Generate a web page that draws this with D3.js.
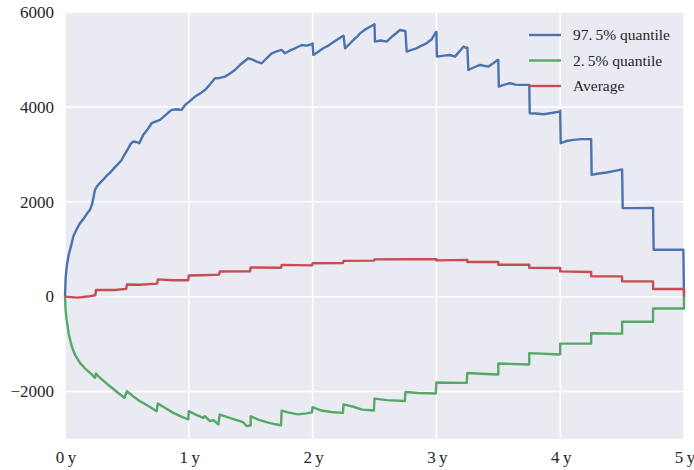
<!DOCTYPE html>
<html lang="en">
<head>
<meta charset="UTF-8"/>
<title>Quantiles over time</title>
<script src="https://d3js.org/d3.v7.min.js"></script>
<style>
  body { margin: 0; background: white; }
  text { font-family: "Liberation Serif", "DejaVu Serif", serif; fill: #262626; }
</style>
</head>
<body>
<script>
    // tick values and labels
    var yTicks = [-2000, 0, 2000, 4000, 6000];
    var xTicks = [0, 1, 2, 3, 4, 5];
    var xTickLabels = ["0\u2009y", "1\u2009y", "2\u2009y", "3\u2009y", "4\u2009y", "5\u2009y"];
    var seriesNames = ["97.\u20095% quantile", "2.\u20095% quantile", "Average"];
    var seriesColors = ["#4C72B0", "#55A868", "#C44E52"];

    // [year, value]
    var upper = [[0,0],[0.005,380],[0.014,640],[0.03,880],[0.05,1080],[0.067,1270],[0.09,1400],[0.121,1550],
        [0.15,1640],[0.18,1760],[0.202,1830],[0.22,1960],[0.242,2250],[0.26,2330],[0.283,2400],[0.31,2470],
        [0.34,2560],[0.363,2610],[0.40,2720],[0.43,2800],[0.458,2880],[0.48,2990],[0.512,3130],[0.53,3220],
        [0.552,3270],[0.575,3260],[0.60,3235],[0.632,3410],[0.66,3500],[0.70,3656],[0.73,3690],[0.767,3726],
        [0.80,3800],[0.83,3870],[0.862,3936],[0.90,3950],[0.942,3936],[0.97,4040],[1.004,4110],[1.05,4217],
        [1.09,4280],[1.131,4357],[1.17,4470],[1.212,4603],[1.25,4610],[1.292,4638],[1.33,4700],[1.373,4778],
        [1.42,4900],[1.48,5025],[1.52,4990],[1.548,4954],[1.589,4919],[1.63,5030],[1.67,5130],[1.71,5170],
        [1.75,5200],[1.777,5130],[1.82,5190],[1.858,5235],[1.912,5305],[1.95,5290],[1.993,5320],[2.0,5340],
        [2.006,5094],[2.04,5150],[2.086,5235],[2.12,5280],[2.154,5340],[2.20,5420],[2.235,5480],[2.25,5500],
        [2.262,5235],[2.30,5330],[2.329,5410],[2.36,5480],[2.383,5550],[2.43,5640],[2.49,5726],[2.50,5740],
        [2.504,5375],[2.55,5400],[2.598,5375],[2.65,5500],[2.706,5620],[2.746,5600],[2.75,5585],[2.76,5165],
        [2.80,5200],[2.84,5235],[2.88,5290],[2.92,5340],[2.96,5420],[2.997,5580],[3.0,5580],[3.004,5060],
        [3.06,5080],[3.11,5094],[3.15,5060],[3.19,5180],[3.218,5270],[3.245,5235],[3.25,5250],[3.258,4778],
        [3.30,4830],[3.352,4884],[3.42,4849],[3.46,4920],[3.495,4990],[3.5,4990],[3.504,4427],[3.55,4470],
        [3.595,4498],[3.64,4470],[3.675,4463],[3.75,4463],[3.754,3867],[3.80,3860],[3.864,3846],[3.93,3870],
        [3.996,3900],[4.0,3920],[4.004,3235],[4.05,3280],[4.106,3305],[4.17,3320],[4.25,3320],[4.254,2568],
        [4.30,2590],[4.376,2617],[4.44,2650],[4.5,2680],[4.505,1867],[4.6,1867],[4.75,1870],[4.755,989],
        [4.995,989],[5.0,0]];

    var lower = [[0,0],[0.005,-300],[0.013,-484],[0.03,-780],[0.054,-1046],[0.08,-1220],[0.121,-1396],
        [0.16,-1510],[0.202,-1606],[0.22,-1650],[0.242,-1712],[0.25,-1620],[0.27,-1680],[0.30,-1750],
        [0.363,-1888],[0.42,-2010],[0.48,-2130],[0.50,-1993],[0.55,-2100],[0.606,-2203],[0.67,-2300],
        [0.74,-2414],[0.75,-2252],[0.80,-2330],[0.875,-2449],[0.94,-2530],[0.996,-2589],[1.0,-2414],
        [1.06,-2490],[1.117,-2553],[1.13,-2520],[1.171,-2625],[1.20,-2600],[1.238,-2694],[1.25,-2484],
        [1.30,-2530],[1.36,-2580],[1.414,-2625],[1.44,-2650],[1.468,-2730],[1.5,-2710],[1.5,-2520],
        [1.56,-2590],[1.62,-2640],[1.70,-2690],[1.745,-2710],[1.75,-2400],[1.80,-2440],[1.88,-2480],
        [1.95,-2460],[1.995,-2440],[2.0,-2330],[2.07,-2400],[2.15,-2430],[2.245,-2450],[2.25,-2270],
        [2.33,-2320],[2.40,-2380],[2.495,-2400],[2.5,-2150],[2.6,-2180],[2.745,-2200],[2.75,-2010],
        [2.85,-2030],[2.995,-2040],[3.0,-1810],[3.1,-1815],[3.245,-1817],[3.25,-1610],[3.4,-1630],
        [3.5,-1640],[3.5,-1410],[3.75,-1430],[3.75,-1190],[4.0,-1220],[4.0,-990],[4.25,-990],[4.25,-770],
        [4.5,-780],[4.5,-530],[4.75,-530],[4.75,-250],[5.0,-250],[5.0,0]];

    var average = [[0,0],[0.1,-20],[0.2,10],[0.245,30],[0.25,140],[0.4,140],[0.495,165],[0.5,255],
        [0.6,250],[0.745,275],[0.75,365],[0.87,345],[0.995,345],[1.0,445],[1.1,450],[1.245,465],[1.25,530],
        [1.495,535],[1.5,615],[1.745,610],[1.75,670],[1.995,660],[2.0,705],[2.245,710],[2.25,755],[2.495,760],
        [2.5,785],[2.75,790],[3.0,790],[3.0,765],[3.25,775],[3.25,730],[3.5,730],[3.5,674],[3.75,674],
        [3.75,610],[4.0,604],[4.0,533],[4.25,520],[4.25,428],[4.5,428],[4.5,323],[4.75,323],[4.75,161],
        [5.0,161],[5.0,0]];

    var w = 694, h = 470;
    var padL = 65, padR = 684, padT = 12, padB = 439;

    var xScale = d3.scaleLinear().domain([0, 5]).range([padL, padR]);
    var yScale = d3.scaleLinear().domain([-3000, 6000]).range([padB, padT]);

    var svg = d3.select("body").append("svg")
        .attr("width", w)
        .attr("height", h);

    svg.append("rect")
        .attr("x", padL).attr("y", padT)
        .attr("width", padR - padL).attr("height", padB - padT)
        .attr("fill", "#EAEAF2");

    // grid
    svg.selectAll(".hgrid").data(yTicks).enter().append("line")
        .attr("x1", padL).attr("x2", padR)
        .attr("y1", function(d){ return yScale(d); })
        .attr("y2", function(d){ return yScale(d); })
        .attr("stroke", "white").attr("stroke-width", 1.5);

    svg.selectAll(".vgrid").data(xTicks).enter().append("line")
        .attr("y1", padT).attr("y2", padB)
        .attr("x1", function(d){ return xScale(d); })
        .attr("x2", function(d){ return xScale(d); })
        .attr("stroke", "white").attr("stroke-width", 1.5);

    // tick labels
    svg.selectAll(".ylab").data(yTicks).enter().append("text")
        .attr("x", padL - 11)
        .attr("y", function(d){ return yScale(d); })
        .attr("dy", "0.34em")
        .attr("text-anchor", "end")
        .style("font-size", "17px")
        .text(function(d){ return d < 0 ? "\u2212" + Math.abs(d) : d; });

    svg.selectAll(".xlab").data(xTicks).enter().append("text")
        .attr("x", function(d){ return xScale(d) + 1; })
        .attr("y", 463)
        .attr("text-anchor", "middle")
        .style("font-size", "17px")
        .text(function(d, i){ return xTickLabels[i]; });

    var line = d3.line()
        .x(function(d){ return xScale(d[0]); })
        .y(function(d){ return yScale(d[1]); });

    var series = [upper, lower, average];
    svg.selectAll(".series").data(series).enter().append("path")
        .attr("d", line)
        .attr("fill", "none")
        .attr("stroke", function(d, i){ return seriesColors[i]; })
        .attr("stroke-width", 2.4)
        .attr("stroke-linejoin", "round");

    // legend
    var legend = svg.append("g");
    seriesNames.forEach(function(name, i) {
        var ly = 35 + i * 25.5;
        legend.append("line")
            .attr("x1", 529).attr("x2", 561)
            .attr("y1", ly).attr("y2", ly)
            .attr("stroke", seriesColors[i]).attr("stroke-width", 2.4);
        legend.append("text")
            .attr("x", 573).attr("y", ly)
            .attr("dy", "0.35em")
            .style("font-size", "15.5px")
            .text(name);
    });
</script>
</body>
</html>
